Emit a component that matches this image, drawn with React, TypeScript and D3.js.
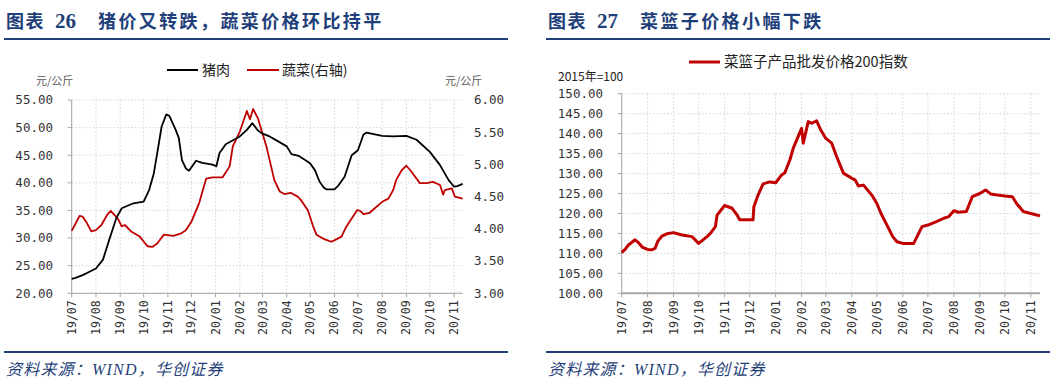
import * as d3 from "d3";

// months shown on both x axes
const monthTicks = ["2019-07-01","2019-08-01","2019-09-01","2019-10-01","2019-11-01","2019-12-01","2020-01-01","2020-02-01","2020-03-01","2020-04-01","2020-05-01","2020-06-01","2020-07-01","2020-08-01","2020-09-01","2020-10-01","2020-11-01"];
const monthLabels = ["19/07","19/08","19/09","19/10","19/11","19/12","20/01","20/02","20/03","20/04","20/05","20/06","20/07","20/08","20/09","20/10","20/11"];

// 图表26 猪肉 (左轴, 元/公斤)
const porkDates = ["2019-07-01","2019-07-06","2019-07-15","2019-07-25","2019-08-01","2019-08-10","2019-08-18","2019-08-27","2019-09-03","2019-09-18","2019-10-01","2019-10-08","2019-10-14","2019-10-19","2019-10-24","2019-10-30","2019-11-03","2019-11-11","2019-11-15","2019-11-19","2019-11-24","2019-11-28","2019-12-07","2019-12-15","2019-12-28","2020-01-02","2020-01-06","2020-01-14","2020-02-01","2020-02-10","2020-02-17","2020-02-24","2020-03-01","2020-03-10","2020-03-20","2020-04-01","2020-04-07","2020-04-16","2020-04-26","2020-05-01","2020-05-07","2020-05-13","2020-05-18","2020-05-22","2020-06-01","2020-06-06","2020-06-14","2020-06-23","2020-07-01","2020-07-08","2020-07-12","2020-08-01","2020-08-15","2020-09-01","2020-09-14","2020-10-01","2020-10-14","2020-10-25","2020-11-01","2020-11-05","2020-11-12"];
const porkValues = [22.6,22.8,23.3,24.0,24.5,26.1,29.7,33.6,35.4,36.3,36.6,38.7,41.7,45.9,50.2,52.4,52.1,49.6,48.1,44.1,42.6,42.2,44.0,43.6,43.3,43.0,45.4,47.0,48.4,49.6,50.8,49.5,48.9,48.4,47.6,46.6,45.2,44.9,44.0,43.5,42.3,40.2,39.2,38.8,38.8,39.5,41.1,45.0,45.9,48.7,49.1,48.5,48.4,48.5,47.8,45.6,43.2,40.5,39.3,39.4,39.8];

// 图表26 蔬菜 (右轴, 元/公斤)
const vegDates = ["2019-07-01","2019-07-11","2019-07-15","2019-07-20","2019-07-26","2019-08-01","2019-08-08","2019-08-16","2019-08-20","2019-08-29","2019-09-03","2019-09-07","2019-09-15","2019-09-26","2019-10-06","2019-10-12","2019-10-18","2019-10-27","2019-11-08","2019-11-18","2019-11-24","2019-12-01","2019-12-11","2019-12-20","2019-12-28","2020-01-10","2020-01-19","2020-01-23","2020-02-01","2020-02-10","2020-02-14","2020-02-18","2020-02-24","2020-03-01","2020-03-06","2020-03-12","2020-03-16","2020-03-23","2020-03-29","2020-04-06","2020-04-15","2020-04-19","2020-04-28","2020-05-05","2020-05-09","2020-05-19","2020-05-28","2020-06-02","2020-06-10","2020-06-16","2020-06-23","2020-06-30","2020-07-04","2020-07-08","2020-07-16","2020-08-01","2020-08-09","2020-08-15","2020-08-19","2020-08-26","2020-09-01","2020-09-06","2020-09-14","2020-09-18","2020-09-27","2020-10-05","2020-10-14","2020-10-18","2020-10-20","2020-10-29","2020-11-02","2020-11-12"];
const vegValues = [3.97,4.20,4.19,4.10,3.96,3.98,4.06,4.23,4.28,4.16,4.04,4.06,3.96,3.88,3.73,3.72,3.77,3.91,3.89,3.93,3.98,4.11,4.40,4.78,4.80,4.80,4.97,5.28,5.51,5.83,5.70,5.86,5.72,5.48,5.28,4.97,4.76,4.58,4.54,4.56,4.50,4.45,4.29,4.03,3.91,3.84,3.80,3.83,3.88,4.03,4.16,4.29,4.28,4.23,4.25,4.42,4.47,4.60,4.76,4.91,4.98,4.91,4.78,4.71,4.71,4.73,4.68,4.53,4.60,4.63,4.50,4.47];

// 图表27 菜篮子产品批发价格200指数 (2015年=100)
const basketDates = ["2019-07-01","2019-07-05","2019-07-09","2019-07-17","2019-07-20","2019-07-26","2019-08-01","2019-08-06","2019-08-10","2019-08-13","2019-08-18","2019-08-24","2019-09-01","2019-09-11","2019-09-23","2019-10-01","2019-10-11","2019-10-15","2019-10-21","2019-10-23","2019-11-01","2019-11-10","2019-11-16","2019-11-19","2019-12-05","2019-12-06","2019-12-11","2019-12-17","2019-12-25","2020-01-01","2020-01-08","2020-01-12","2020-01-18","2020-01-22","2020-02-01","2020-02-03","2020-02-09","2020-02-13","2020-02-19","2020-02-24","2020-03-01","2020-03-08","2020-03-14","2020-03-22","2020-04-01","2020-04-05","2020-04-09","2020-04-15","2020-04-25","2020-05-01","2020-05-06","2020-05-12","2020-05-20","2020-05-25","2020-06-01","2020-06-14","2020-06-18","2020-06-24","2020-07-01","2020-07-06","2020-07-12","2020-07-20","2020-07-26","2020-08-01","2020-08-06","2020-08-16","2020-08-23","2020-09-01","2020-09-08","2020-09-14","2020-09-22","2020-10-01","2020-10-10","2020-10-15","2020-10-23","2020-11-01","2020-11-08","2020-11-12"];
const basketValues = [110.2,111.0,112.1,113.4,112.9,111.5,111.0,110.9,111.3,113.0,114.3,114.9,115.2,114.6,114.2,112.5,114.2,115.0,116.7,119.6,122.0,121.3,119.6,118.4,118.4,121.7,124.6,127.4,127.9,127.7,129.6,130.2,133.4,136.3,141.3,137.6,143.0,142.6,143.2,140.9,138.8,137.6,134.2,130.1,128.8,128.4,126.9,127.1,124.6,122.5,120.0,117.5,114.2,112.9,112.5,112.5,114.2,116.7,117.1,117.5,118.0,118.8,119.2,120.7,120.3,120.5,124.2,125.0,125.9,124.9,124.6,124.4,124.2,122.5,120.5,120.0,119.6,119.4];

const leftTicks = [20, 25, 30, 35, 40, 45, 50, 55];
const rightTicks = [3, 3.5, 4, 4.5, 5, 5.5, 6];
const basketTicks = [100, 105, 110, 115, 120, 125, 130, 135, 140, 145, 150];

const parse = d3.timeParse("%Y-%m-%d");
const domainX: [Date, Date] = [parse("2019-07-01")!, parse("2020-11-12")!];

const NAVY = "#1f3f7a";
const RED = "#c00000";
const GRID = "#d4d4d4";
const AXIS = "#a6a6a6";
const NUM_FONT = "'DejaVu Sans Mono', monospace";
const CJK_FONT = "'Noto Sans CJK SC', 'Noto Sans', sans-serif";

function Header({ x, num, text }: { x: number; num: string; text: string }) {
  return (
    <g fill={NAVY} fontFamily="'Noto Sans CJK SC', serif" fontWeight="bold" fontSize={18}>
      <text x={x + 2} y={28} letterSpacing={1.5}>图表</text>
      <text x={x + 51} y={28} fontFamily="'Liberation Serif', serif" fontSize={21}>{num}</text>
      <text x={x + 94} y={28} letterSpacing={2.4}>{text}</text>
      <line x1={x} x2={x + 504} y1={39} y2={39} stroke={NAVY} strokeWidth={2.2} />
      <line x1={x} x2={x + 504} y1={352} y2={352} stroke={NAVY} strokeWidth={2.2} />
      <text x={x + 2} y={375} fontWeight="normal" fontStyle="italic" fontSize={16} letterSpacing={1.2}
        fontFamily="'Liberation Serif', 'Noto Sans CJK SC', serif">资料来源：WIND，华创证券</text>
    </g>
  );
}

function Grid({ x, y, yTicks, tickLen = 4, thickX = 1 }: any) {
  const [x0, x1] = x.range();
  const [y1, y0] = y.range();
  return (
    <g>
      {yTicks.map((t: number) => (
        <line key={"h" + t} x1={x0} x2={x1} y1={y(t)} y2={y(t)} stroke={GRID} strokeDasharray="1.5,2" />
      ))}
      {monthTicks.map((m) => {
        const px = x(parse(m)!);
        return <line key={"v" + m} x1={px} x2={px} y1={y0} y2={y1} stroke={GRID} strokeDasharray="1.5,2" />;
      })}
      <line x1={x0} x2={x0} y1={y0} y2={y1} stroke={AXIS} />
      {yTicks.map((t: number) => (
        <line key={"t" + t} x1={x0 - tickLen} x2={x0} y1={y(t)} y2={y(t)} stroke={AXIS} />
      ))}
      <line x1={x0} x2={x1} y1={y1} y2={y1} stroke={AXIS} strokeWidth={thickX} />
      {monthTicks.map((m, i) => {
        const px = x(parse(m)!);
        return (
          <g key={"x" + m}>
            <line x1={px} x2={px} y1={y1} y2={y1 + 4} stroke={AXIS} />
            <text transform={`translate(${px},${y1 + 7}) rotate(-90)`} textAnchor="end" dy="0.35em"
              fontSize={11.5} fontFamily={NUM_FONT} fill="#333">{monthLabels[i]}</text>
          </g>
        );
      })}
    </g>
  );
}

function PorkVegChart() {
  const x = d3.scaleTime().domain(domainX).range([71.7, 462.7]);
  const yL = d3.scaleLinear().domain([20, 55]).range([293.3, 100]);
  const yR = d3.scaleLinear().domain([3, 6]).range([293.3, 100]);
  const porkLine = d3.line<number>().x((_, i) => x(parse(porkDates[i])!)).y((d) => yL(d));
  const vegLine = d3.line<number>().x((_, i) => x(parse(vegDates[i])!)).y((d) => yR(d));
  return (
    <g>
      <Header x={4} num="26" text="猪价又转跌，蔬菜价格环比持平" />
      <Grid x={x} y={yL} yTicks={leftTicks} />
      {leftTicks.map((t) => (
        <text key={t} x={53} y={yL(t)} dy="0.35em" textAnchor="end" fontSize={12.5} fontFamily={NUM_FONT} fill="#333">{t.toFixed(2)}</text>
      ))}
      {rightTicks.map((t) => (
        <text key={t} x={474} y={yR(t)} dy="0.35em" fontSize={12.5} fontFamily={NUM_FONT} fill="#333">{t.toFixed(2)}</text>
      ))}
      <text x={36} y={85} fontSize={11} fontFamily={CJK_FONT} fill="#595959">元/公斤</text>
      <text x={445} y={85} fontSize={11} fontFamily={CJK_FONT} fill="#595959">元/公斤</text>
      <path d={vegLine(vegValues) || ""} fill="none" stroke={RED} strokeWidth={1.8} strokeLinejoin="round" />
      <path d={porkLine(porkValues) || ""} fill="none" stroke="#000" strokeWidth={1.8} strokeLinejoin="round" />
      <g fontFamily={CJK_FONT} fontSize={14} fill="#222">
        <line x1={167} x2={198} y1={70} y2={70} stroke="#000" strokeWidth={2} />
        <text x={202} y={75}>猪肉</text>
        <line x1={247} x2={279} y1={70} y2={70} stroke={RED} strokeWidth={2} />
        <text x={282} y={75}>蔬菜(右轴)</text>
      </g>
    </g>
  );
}

function BasketChart() {
  const x = d3.scaleTime().domain(domainX).range([621.7, 1040]);
  const y = d3.scaleLinear().domain([100, 150]).range([293.3, 93.7]);
  const line = d3.line<number>().x((_, i) => x(parse(basketDates[i])!)).y((d) => y(d));
  return (
    <g>
      <Header x={546} num="27" text="菜篮子价格小幅下跌" />
      <Grid x={x} y={y} yTicks={basketTicks} thickX={2} />
      {basketTicks.map((t) => (
        <text key={t} x={603} y={y(t)} dy="0.35em" textAnchor="end" fontSize={12.5} fontFamily={NUM_FONT} fill="#333">{t.toFixed(2)}</text>
      ))}
      <text x={558} y={81} fontSize={12} fontFamily={CJK_FONT} fill="#222">2015年=100</text>
      <path d={line(basketValues) || ""} fill="none" stroke={RED} strokeWidth={3} strokeLinejoin="round" />
      <line x1={689} x2={720} y1={62} y2={62} stroke={RED} strokeWidth={3} />
      <text x={724} y={67} fontFamily={CJK_FONT} fontSize={14.5} fill="#222">菜篮子产品批发价格200指数</text>
    </g>
  );
}

export default function App() {
  return (
    <div style={{ position: "fixed", left: 0, top: 0, background: "#fff" }}>
      <svg width={1064} height={388} style={{ display: "block", background: "#fff" }}>
        <PorkVegChart />
        <BasketChart />
      </svg>
    </div>
  );
}
